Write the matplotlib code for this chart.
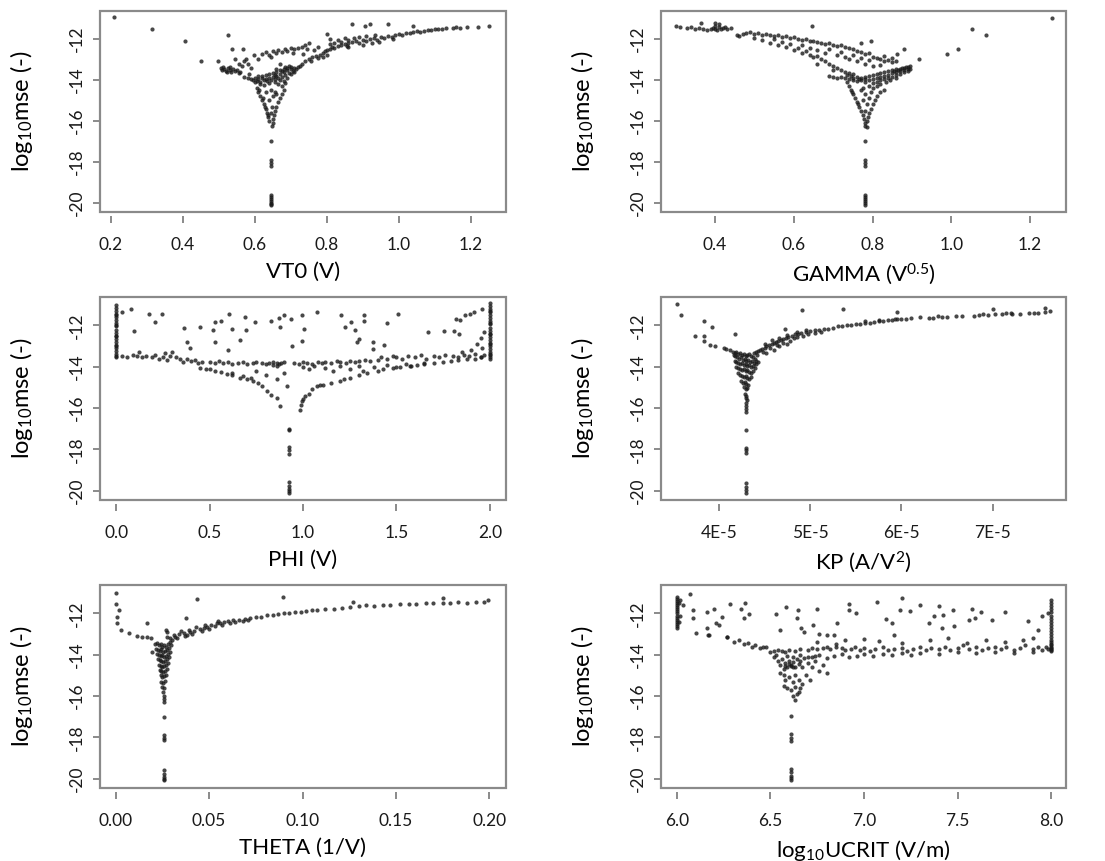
import numpy as np
import matplotlib
matplotlib.use('Agg')
import matplotlib.pyplot as plt
from matplotlib.patches import Rectangle

plt.rcParams['font.family'] = ['Lato', 'DejaVu Sans']
plt.rcParams['mathtext.fontset'] = 'custom'
plt.rcParams['mathtext.rm'] = 'Lato'
plt.rcParams['mathtext.it'] = 'Lato:italic'

# ---- data: (parameter value, log10 mse) ----
vt0_pts = [
    (0.21, -10.95), (0.315, -11.5), (0.405, -12.1), (0.452, -13.1), (0.525, -11.8), (0.537, -12.5),
    (0.566, -12.5), (0.497, -13.1),
    (0.505, -13.4), (0.51, -13.5), (0.515, -13.45), (0.52, -13.55), (0.525, -13.4), (0.53, -13.5),
    (0.535, -13.6), (0.54, -13.45), (0.545, -13.55), (0.55, -13.5), (0.555, -13.65), (0.512, -13.35),
    (0.522, -13.6), (0.532, -13.38), (0.56, -13.6), (0.565, -13.3), (0.57, -13.1), (0.575, -13.0),
    (0.58, -13.2), (0.555, -13.2), (0.545, -13.0), (0.59, -13.4), (0.585, -13.7),
    (0.597, -12.8), (0.61, -13.0), (0.62, -12.75), (0.63, -12.65), (0.64, -12.8), (0.65, -12.6),
    (0.66, -12.7), (0.665, -12.55), (0.675, -12.65), (0.685, -12.5), (0.69, -12.6), (0.70, -12.45),
    (0.71, -12.5), (0.72, -12.45), (0.73, -12.4), (0.74, -12.3), (0.745, -12.5), (0.75, -12.2),
    (0.645, -12.9), (0.67, -13.2), (0.705, -12.7), (0.735, -12.75),
    (0.57, -13.85), (0.58, -13.9), (0.59, -13.95), (0.60, -13.9), (0.61, -13.95), (0.62, -13.9),
    (0.63, -13.95), (0.64, -13.9), (0.65, -13.85), (0.66, -13.8), (0.67, -13.7), (0.68, -13.6),
    (0.69, -13.5), (0.70, -13.45), (0.71, -13.4), (0.72, -13.35),
    (0.595, -14.0), (0.605, -14.05), (0.615, -14.1), (0.625, -14.0), (0.635, -14.05), (0.645, -14.0),
    (0.655, -13.95), (0.665, -13.9), (0.675, -13.85), (0.685, -13.75), (0.695, -13.65), (0.705, -13.55),
    (0.715, -13.45), (0.64, -13.7), (0.65, -13.65), (0.66, -13.6), (0.67, -13.5), (0.68, -13.45),
    (0.69, -13.4), (0.70, -13.35), (0.66, -13.45), (0.675, -13.55), (0.685, -13.35), (0.695, -13.3),
    (0.655, -13.75), (0.67, -14.0), (0.68, -14.05), (0.69, -13.9), (0.70, -13.7), (0.71, -13.6),
    (0.62, -13.8), (0.63, -13.75), (0.61, -13.8), (0.60, -14.1), (0.615, -14.2), (0.625, -14.25),
    (0.64, -14.15), (0.655, -14.1), (0.665, -14.2), (0.675, -14.3), (0.685, -14.15),
    (0.605, -14.4), (0.61, -14.6), (0.615, -14.8), (0.62, -15.0), (0.625, -15.2), (0.63, -15.4),
    (0.633, -15.6), (0.636, -15.8), (0.64, -16.0), (0.612, -14.5), (0.622, -14.9), (0.628, -15.3),
    (0.638, -15.7), (0.68, -14.5), (0.675, -14.7), (0.67, -14.9), (0.665, -15.1), (0.66, -15.3),
    (0.657, -15.5), (0.654, -15.7), (0.652, -15.9), (0.65, -16.1), (0.648, -16.25),
    (0.645, -14.5), (0.65, -14.8), (0.655, -14.6), (0.64, -15.0), (0.648, -15.3), (0.63, -14.6),
    (0.66, -14.7), (0.645, -15.6),
    (0.645, -17.0), (0.645, -17.9), (0.645, -18.05), (0.645, -18.2), (0.645, -19.6), (0.645, -19.7),
    (0.645, -19.8), (0.645, -19.9), (0.645, -20.0), (0.645, -20.05), (0.645, -20.1),
    (0.725, -13.3), (0.73, -13.2), (0.74, -13.1), (0.75, -13.0), (0.755, -13.1), (0.76, -12.9),
    (0.77, -12.85), (0.775, -12.95), (0.78, -12.8), (0.79, -12.7), (0.795, -12.6), (0.80, -12.55),
    (0.81, -12.5), (0.815, -12.4), (0.82, -12.45), (0.83, -12.35), (0.84, -12.3), (0.85, -12.25),
    (0.855, -12.35), (0.86, -12.2), (0.87, -12.15), (0.88, -12.1), (0.89, -12.2), (0.90, -12.05),
    (0.91, -12.1), (0.92, -12.0), (0.93, -11.95), (0.94, -12.05), (0.95, -11.9), (0.96, -11.95),
    (0.97, -11.85), (0.98, -11.9), (0.99, -11.8), (1.00, -11.75), (1.01, -11.8), (1.02, -11.7),
    (1.03, -11.7), (1.04, -11.65), (1.05, -11.6), (1.06, -11.65), (1.07, -11.6), (1.08, -11.55),
    (1.09, -11.55), (1.10, -11.5), (1.11, -11.5), (1.12, -11.5), (1.13, -11.45), (1.15, -11.45),
    (1.16, -11.42), (1.17, -11.45), (1.19, -11.4), (1.22, -11.42), (1.25, -11.35),
    (0.80, -11.75), (0.81, -12.0), (0.82, -12.2), (0.83, -12.05), (0.84, -12.15), (0.85, -11.95),
    (0.86, -12.05), (0.87, -11.25), (0.875, -11.95), (0.89, -11.9), (0.905, -11.35), (0.91, -11.85),
    (0.92, -11.25), (0.935, -11.8), (0.97, -11.25), (1.04, -11.35), (0.79, -12.9), (0.765, -12.55),
    (0.775, -12.4), (0.80, -12.8), (0.81, -12.25), (0.86, -12.4), (0.90, -12.3), (0.925, -12.2),
    (0.945, -12.15), (0.985, -12.0),
]

gamma_pts = [
    (0.30, -11.35), (0.31, -11.4), (0.33, -11.45), (0.34, -11.4), (0.35, -11.5), (0.36, -11.45),
    (0.365, -11.2), (0.37, -11.5), (0.38, -11.55), (0.39, -11.5), (0.395, -11.45), (0.40, -11.5),
    (0.40, -11.35), (0.405, -11.55), (0.41, -11.4), (0.41, -11.25), (0.415, -11.5), (0.42, -11.45),
    (0.425, -11.4), (0.43, -11.5), (0.44, -11.45), (0.40, -11.2),
    (0.455, -11.8), (0.46, -11.85), (0.47, -11.75), (0.48, -11.7), (0.49, -11.65), (0.50, -11.75),
    (0.51, -11.7), (0.52, -11.8), (0.53, -11.75), (0.54, -11.8), (0.55, -11.85), (0.56, -11.8),
    (0.57, -11.9), (0.58, -11.85), (0.59, -11.95), (0.60, -11.9), (0.61, -12.0), (0.62, -12.05),
    (0.63, -12.0), (0.64, -12.1), (0.65, -12.1), (0.66, -12.15), (0.67, -12.2), (0.68, -12.25),
    (0.69, -12.2), (0.70, -12.3), (0.71, -12.35), (0.72, -12.3), (0.73, -12.4), (0.74, -12.45),
    (0.75, -12.5), (0.76, -12.6), (0.77, -12.65), (0.78, -12.75), (0.79, -12.7), (0.80, -12.9),
    (0.81, -12.95), (0.82, -13.0), (0.83, -13.1), (0.84, -13.05), (0.85, -13.15),
    (0.50, -11.95), (0.52, -12.05), (0.54, -12.2), (0.56, -12.3), (0.58, -12.4), (0.60, -12.55),
    (0.61, -12.45), (0.62, -12.7), (0.63, -12.6), (0.64, -12.8), (0.65, -12.9), (0.66, -12.85),
    (0.67, -13.0), (0.68, -13.1), (0.69, -13.2), (0.70, -13.3), (0.71, -13.4), (0.72, -13.5),
    (0.73, -13.6), (0.74, -13.65), (0.75, -13.7), (0.66, -13.2), (0.70, -13.5),
    (0.55, -12.0), (0.57, -12.15), (0.59, -12.25), (0.62, -12.3), (0.64, -12.45), (0.66, -12.55),
    (0.68, -12.7), (0.69, -12.5), (0.71, -12.8), (0.72, -12.65), (0.73, -12.9), (0.74, -13.0),
    (0.75, -12.8), (0.76, -13.1), (0.77, -12.95), (0.78, -13.2), (0.79, -13.05), (0.80, -13.3),
    (0.82, -13.25), (0.83, -12.85), (0.85, -12.95), (0.86, -13.1),
    (0.646, -11.35), (0.77, -12.2), (0.797, -12.1), (0.88, -12.5), (0.862, -12.75), (0.917, -12.97),
    (0.99, -12.76), (1.018, -12.5), (1.052, -11.5), (1.089, -11.8), (1.255, -11.0),
    (0.69, -13.8), (0.70, -13.85), (0.71, -13.9), (0.72, -13.85), (0.73, -13.9), (0.74, -13.95),
    (0.75, -13.9), (0.76, -13.85), (0.77, -13.9), (0.78, -13.85), (0.79, -13.8), (0.80, -13.75),
    (0.81, -13.7), (0.82, -13.65), (0.83, -13.6), (0.84, -13.55), (0.85, -13.5), (0.86, -13.45),
    (0.87, -13.45), (0.88, -13.4), (0.89, -13.35), (0.895, -13.3),
    (0.75, -14.0), (0.76, -14.05), (0.77, -14.0), (0.78, -14.1), (0.79, -14.0), (0.80, -13.95),
    (0.81, -13.9), (0.82, -13.85), (0.83, -13.8), (0.84, -13.75), (0.85, -13.65), (0.86, -13.6),
    (0.87, -13.55), (0.88, -13.5), (0.89, -13.45),
    (0.80, -14.15), (0.81, -14.1), (0.82, -14.0), (0.83, -13.95), (0.84, -13.9), (0.85, -13.85),
    (0.86, -13.75), (0.87, -13.7), (0.88, -13.6), (0.89, -13.55), (0.895, -13.45), (0.885, -13.35),
    (0.875, -13.4), (0.865, -13.5), (0.855, -13.55), (0.78, -13.95), (0.765, -13.95), (0.745, -13.8),
    (0.735, -13.75), (0.79, -14.3), (0.80, -14.4), (0.81, -14.3), (0.82, -14.2), (0.835, -14.1),
    (0.845, -14.0), (0.86, -13.9),
    (0.735, -14.1), (0.74, -14.3), (0.745, -14.5), (0.75, -14.7), (0.755, -14.9), (0.76, -15.1),
    (0.765, -15.3), (0.77, -15.5), (0.775, -15.7), (0.778, -15.9), (0.78, -16.1), (0.782, -16.25),
    (0.748, -14.6), (0.762, -15.2),
    (0.83, -14.5), (0.82, -14.6), (0.81, -14.8), (0.805, -15.0), (0.80, -15.2), (0.795, -15.4),
    (0.79, -15.6), (0.788, -15.8), (0.786, -16.0), (0.785, -16.3),
    (0.775, -14.4), (0.78, -14.7), (0.79, -14.9), (0.785, -15.2), (0.775, -15.0), (0.795, -14.6),
    (0.77, -14.5), (0.78, -15.5),
    (0.782, -17.0), (0.782, -17.9), (0.782, -18.05), (0.782, -18.2), (0.782, -19.6), (0.782, -19.7),
    (0.782, -19.8), (0.782, -19.9), (0.782, -20.0), (0.782, -20.1),
]

phi_pts = [
    (0.0, -11.0), (0.0, -11.15), (0.0, -11.3), (0.0, -11.45), (0.0, -11.6), (0.0, -11.75),
    (0.0, -11.9), (0.0, -12.05), (0.0, -12.2), (0.0, -12.35), (0.0, -12.5), (0.0, -12.65),
    (0.0, -12.8), (0.0, -12.95), (0.0, -13.1), (0.0, -13.25), (0.0, -13.4), (0.0, -13.55),
    (0.0, -11.5), (0.0, -12.0), (0.0, -12.5), (0.0, -13.0), (0.0, -13.5), (0.03, -11.35), (0.03, -13.5),
    (2.0, -10.9), (2.0, -11.05), (2.0, -11.2), (2.0, -11.35), (2.0, -11.5), (2.0, -11.65),
    (2.0, -11.8), (2.0, -11.95), (2.0, -12.1), (2.0, -12.25), (2.0, -12.4), (2.0, -12.55),
    (2.0, -12.7), (2.0, -12.85), (2.0, -13.0), (2.0, -13.15), (2.0, -13.3), (2.0, -13.45),
    (2.0, -13.6), (2.0, -11.3), (2.0, -11.9), (2.0, -12.4), (2.0, -12.9), (2.0, -13.4), (2.0, -13.55),
    (0.078, -11.19), (0.178, -11.43), (0.248, -11.43), (0.208, -11.83), (0.098, -12.29), (0.361, -12.13),
    (0.448, -12.08), (0.378, -12.78), (0.398, -13.08), (0.531, -11.83), (0.561, -11.76), (0.603, -11.43),
    (0.519, -12.2), (0.619, -12.16), (0.694, -12.24), (0.691, -11.59), (0.744, -11.83), (0.664, -12.69),
    (0.531, -12.81), (0.597, -13.19), (0.830, -11.76), (0.872, -11.64), (0.897, -11.51), (0.936, -11.67),
    (0.877, -12.08), (0.997, -11.51), (1.007, -12.16), (0.993, -12.73), (0.943, -13.0), (1.076, -11.34),
    (1.206, -11.48), (1.256, -11.83), (1.223, -12.08), (1.276, -12.24), (1.326, -11.51), (1.329, -11.8),
    (1.289, -12.81), (1.301, -12.65), (1.376, -12.81), (1.376, -13.14), (1.434, -12.95), (1.451, -11.88),
    (1.506, -11.43), (1.667, -12.33), (1.755, -12.29), (1.808, -12.29), (1.833, -12.41), (1.816, -11.67),
    (1.841, -11.72), (1.866, -11.51), (1.891, -11.43), (1.916, -11.34), (1.96, -11.2),
    (1.93, -12.9), (1.95, -12.6), (1.97, -12.3), (1.96, -13.1), (1.9, -13.2), (1.85, -13.3),
    (0.06, -13.55), (0.09, -13.45), (0.11, -13.5), (0.14, -13.55), (0.16, -13.5), (0.19, -13.55),
    (0.21, -13.45), (0.23, -13.6), (0.25, -13.55), (0.27, -13.65), (0.29, -13.5), (0.32, -13.55),
    (0.34, -13.6), (0.36, -13.75), (0.38, -13.6), (0.40, -13.7), (0.42, -13.65), (0.44, -13.8),
    (0.46, -13.75), (0.12, -13.3), (0.26, -13.35), (0.30, -13.3),
    (0.50, -13.75), (0.53, -13.8), (0.55, -13.7), (0.57, -13.8), (0.60, -13.75), (0.62, -13.85),
    (0.65, -13.8), (0.68, -13.75), (0.70, -13.85), (0.73, -13.8), (0.75, -13.75), (0.78, -13.8),
    (0.80, -13.85), (0.82, -13.8), (0.84, -13.75), (0.86, -13.8), (0.88, -13.8), (0.90, -13.75),
    (0.95, -13.8), (0.98, -13.85), (1.00, -13.75), (1.02, -13.8), (1.05, -13.85), (1.08, -13.75),
    (1.10, -13.8), (1.12, -13.75), (1.15, -13.8), (1.18, -13.7), (1.20, -13.75), (1.23, -13.8),
    (1.25, -13.7), (1.28, -13.75), (1.30, -13.7), (1.33, -13.65), (1.36, -13.7), (1.40, -13.65),
    (0.84, -13.9), (0.86, -13.95), (0.87, -13.85),
    (1.42, -13.55), (1.45, -13.6), (1.48, -13.5), (1.50, -13.55), (1.53, -13.6), (1.56, -13.5),
    (1.60, -13.55), (1.63, -13.45), (1.66, -13.6), (1.70, -13.5), (1.73, -13.55), (1.76, -13.45),
    (1.80, -13.5), (1.83, -13.55), (1.86, -13.45), (1.89, -13.5), (1.92, -13.4), (1.95, -13.55),
    (1.97, -13.45),
    (1.0, -14.0), (1.03, -14.1), (1.06, -13.95), (1.12, -14.05), (1.16, -14.2), (1.20, -13.95),
    (1.25, -14.1), (1.3, -13.95), (1.32, -14.2), (1.38, -14.0), (1.45, -13.9), (1.5, -14.0),
    (1.55, -13.85), (1.58, -13.95), (1.65, -13.8),
    (0.984, -16.08), (0.99, -15.85), (0.993, -15.67), (1.00, -15.55), (1.01, -15.43), (1.03, -15.3),
    (1.05, -15.1), (1.073, -14.94), (1.09, -14.9), (1.109, -14.86), (1.15, -14.78), (1.198, -14.69),
    (1.22, -14.6), (1.25, -14.53), (1.30, -14.4), (1.34, -14.29), (1.40, -14.2), (1.43, -14.12),
    (1.48, -14.05), (1.52, -13.99), (1.57, -13.95), (1.61, -13.93), (1.65, -13.85), (1.70, -13.8),
    (1.75, -13.75), (1.79, -13.71), (1.83, -13.68), (1.875, -13.63), (1.92, -13.6), (1.95, -13.55),
    (0.449, -14.04), (0.48, -14.1), (0.503, -14.12), (0.53, -14.2), (0.56, -14.25), (0.592, -14.37),
    (0.62, -14.4), (0.663, -14.53), (0.70, -14.6), (0.734, -14.69), (0.76, -14.8), (0.78, -14.95),
    (0.806, -15.18), (0.83, -15.35), (0.859, -15.51), (0.877, -15.89), (0.913, -14.94), (0.62, -14.3),
    (0.68, -14.45), (0.72, -14.55), (0.75, -14.2), (0.80, -14.4), (0.86, -14.6), (0.90, -14.3),
    (0.927, -17.0), (0.927, -17.05), (0.927, -17.9), (0.927, -18.05), (0.927, -18.2), (0.927, -19.6),
    (0.927, -19.75), (0.927, -19.9), (0.927, -20.0), (0.927, -20.1),
]

# KP in units of 1E-5 A/V^2
kp_pts = [
    (3.535, -10.94), (3.583, -11.48), (3.83, -11.76), (3.92, -12.08), (3.74, -12.49), (3.84, -12.49),
    (3.84, -12.73), (4.176, -12.41), (4.72, -12.16), (4.91, -11.27), (5.36, -11.19), (5.95, -11.35),
    (7.0, -11.19), (7.57, -11.15),
    (3.90, -12.95), (3.96, -13.0), (4.05, -13.1), (4.08, -13.14), (4.12, -13.2),
    (4.15, -13.3), (4.17, -13.35), (4.19, -13.3), (4.21, -13.4), (4.23, -13.35), (4.25, -13.45),
    (4.27, -13.4), (4.29, -13.5), (4.31, -13.45), (4.33, -13.4), (4.35, -13.5), (4.37, -13.55),
    (4.39, -13.6), (4.41, -13.7), (4.43, -13.75),
    (4.16, -13.45), (4.18, -13.5), (4.20, -13.55), (4.22, -13.6), (4.24, -13.55), (4.26, -13.65),
    (4.28, -13.6), (4.30, -13.7), (4.32, -13.65), (4.34, -13.75), (4.36, -13.7), (4.38, -13.8),
    (4.40, -13.85),
    (4.17, -13.7), (4.19, -13.75), (4.21, -13.8), (4.23, -13.85), (4.25, -13.8), (4.27, -13.9),
    (4.29, -13.85), (4.31, -13.95), (4.33, -13.9), (4.35, -14.0), (4.37, -13.95), (4.39, -14.05),
    (4.19, -14.0), (4.21, -14.05), (4.23, -14.1), (4.25, -14.15), (4.27, -14.1), (4.29, -14.2),
    (4.31, -14.15), (4.33, -14.25), (4.35, -14.3), (4.37, -14.2),
    (4.21, -14.3), (4.23, -14.4), (4.25, -14.45), (4.27, -14.5), (4.29, -14.45), (4.31, -14.55),
    (4.33, -14.6), (4.35, -14.5),
    (4.24, -14.7), (4.26, -14.8), (4.28, -14.75), (4.30, -14.85), (4.32, -14.9), (4.27, -15.0),
    (4.29, -15.1), (4.31, -15.05), (4.28, -15.3), (4.30, -15.4), (4.29, -15.5), (4.31, -15.6),
    (4.30, -15.75), (4.29, -15.9), (4.30, -16.05), (4.30, -16.2),
    (4.30, -17.04), (4.30, -17.93), (4.30, -18.05), (4.30, -18.18), (4.30, -19.64), (4.30, -19.8),
    (4.30, -19.97), (4.30, -20.13),
    (4.38, -13.35), (4.40, -13.3), (4.43, -13.25), (4.45, -13.2), (4.47, -13.14), (4.50, -13.1),
    (4.52, -13.0), (4.55, -12.95), (4.58, -12.9), (4.60, -12.85), (4.62, -12.8), (4.65, -12.73),
    (4.68, -12.7), (4.70, -12.65), (4.73, -12.6), (4.76, -12.55), (4.80, -12.5), (4.83, -12.41),
    (4.87, -12.4), (4.90, -12.35), (4.95, -12.3), (5.00, -12.25), (5.05, -12.24), (5.10, -12.2),
    (5.15, -12.18), (5.20, -12.16), (5.25, -12.1), (5.30, -12.05), (5.35, -12.02), (5.40, -12.0),
    (5.45, -11.97), (5.50, -11.95), (5.55, -11.92), (5.60, -11.9), (5.65, -11.87), (5.70, -11.83),
    (5.75, -11.8), (5.80, -11.8), (5.85, -11.75), (5.90, -11.73), (5.93, -11.71), (6.00, -11.7),
    (6.05, -11.68), (6.11, -11.64), (6.30, -11.64), (6.35, -11.62), (6.45, -11.6), (6.50, -11.58),
    (6.60, -11.55), (6.66, -11.54), (6.80, -11.52), (6.85, -11.51), (6.95, -11.48), (7.03, -11.43),
    (7.10, -11.45), (7.15, -11.42), (7.21, -11.43), (7.30, -11.45), (7.40, -11.4), (7.50, -11.38),
    (7.58, -11.35), (7.63, -11.32),
    (4.42, -13.45), (4.48, -13.3), (4.52, -13.35), (4.56, -13.1), (4.60, -13.2), (4.63, -12.95),
    (4.66, -13.0), (4.70, -12.85), (4.74, -12.9), (4.78, -12.75), (4.82, -12.6), (4.86, -12.55),
    (4.92, -12.5), (4.98, -12.4), (5.05, -12.35), (5.12, -12.3), (4.50, -12.9), (4.58, -12.7),
    (4.66, -12.6), (4.75, -12.45), (4.85, -12.3), (4.95, -12.2), (5.6, -11.8), (5.75, -11.75),
    (5.95, -11.68), (6.2, -11.6), (6.4, -11.55), (6.9, -11.45), (7.2, -11.38), (7.45, -11.4),
]

theta_pts = [
    (0.0, -11.03), (0.0, -11.52), (0.0018, -11.84), (0.0005, -12.16), (0.0005, -12.48), (0.0027, -12.81),
    (0.0071, -12.97), (0.0116, -13.1), (0.0166, -12.45), (0.017, -13.13), (0.0196, -13.86),
    (0.014, -13.15), (0.019, -13.2),
    (0.021, -13.5), (0.022, -13.45), (0.023, -13.55), (0.024, -13.5), (0.025, -13.6), (0.026, -13.55),
    (0.027, -13.6), (0.028, -13.5), (0.029, -13.4), (0.030, -13.3),
    (0.0215, -13.7), (0.0225, -13.75), (0.0235, -13.8), (0.0245, -13.7), (0.0255, -13.85),
    (0.0265, -13.8), (0.0275, -13.75), (0.0285, -13.65), (0.0295, -13.55),
    (0.022, -13.95), (0.023, -14.0), (0.024, -14.05), (0.025, -14.0), (0.026, -14.1), (0.027, -14.05),
    (0.028, -13.95), (0.029, -13.85),
    (0.0225, -14.2), (0.0235, -14.25), (0.0245, -14.3), (0.0255, -14.35), (0.0265, -14.3),
    (0.0275, -14.2), (0.0285, -14.1),
    (0.023, -14.5), (0.024, -14.55), (0.025, -14.6), (0.026, -14.55), (0.027, -14.5), (0.028, -14.4),
    (0.0235, -14.75), (0.0245, -14.8), (0.0255, -14.85), (0.0265, -14.8), (0.0275, -14.7),
    (0.024, -15.0), (0.025, -15.1), (0.026, -15.05), (0.027, -15.0), (0.0245, -15.3), (0.0255, -15.35),
    (0.0265, -15.25), (0.025, -15.55), (0.026, -15.6), (0.0255, -15.8), (0.0258, -16.0),
    (0.0258, -16.15), (0.0258, -16.28),
    (0.0258, -17.01), (0.0258, -17.9), (0.0258, -18.05), (0.0258, -18.14), (0.0258, -19.6),
    (0.0258, -19.76), (0.0258, -19.92), (0.0258, -20.0), (0.0258, -20.08),
    (0.0276, -13.13), (0.029, -13.2), (0.031, -13.05), (0.032, -13.15), (0.034, -13.0), (0.0365, -12.97),
    (0.038, -13.05), (0.040, -12.9), (0.042, -12.85), (0.045, -12.73), (0.047, -12.7), (0.049, -12.65),
    (0.051, -12.55), (0.054, -12.48), (0.056, -12.45), (0.058, -12.4), (0.060, -12.38), (0.063, -12.32),
    (0.066, -12.3), (0.069, -12.28), (0.072, -12.24), (0.075, -12.18), (0.078, -12.15), (0.081, -12.08),
    (0.084, -12.06), (0.087, -12.02), (0.090, -12.0), (0.093, -11.98), (0.096, -11.95), (0.099, -11.92),
    (0.102, -11.88), (0.105, -11.85), (0.108, -11.81), (0.112, -11.8), (0.117, -11.76), (0.121, -11.72),
    (0.1255, -11.68), (0.130, -11.66), (0.134, -11.6), (0.138, -11.62), (0.143, -11.6), (0.147, -11.58),
    (0.152, -11.52), (0.157, -11.55), (0.161, -11.52), (0.166, -11.5), (0.170, -11.48), (0.175, -11.5),
    (0.179, -11.48), (0.183, -11.46), (0.188, -11.48), (0.193, -11.45), (0.197, -11.43), (0.1995, -11.35),
    (0.033, -13.2), (0.035, -12.85), (0.037, -13.1), (0.039, -12.8), (0.041, -13.0), (0.043, -12.65),
    (0.046, -12.85), (0.048, -12.55), (0.050, -12.75), (0.053, -12.6), (0.055, -12.35), (0.057, -12.55),
    (0.061, -12.45), (0.064, -12.4), (0.068, -12.35), (0.071, -12.3),
    (0.0436, -11.32), (0.0374, -12.24), (0.0267, -12.81), (0.0275, -12.9), (0.0896, -11.22),
    (0.127, -11.43), (0.175, -11.27),
]

ucrit_pts = [
    (6.0, -11.2), (6.0, -11.3), (6.0, -11.4), (6.0, -11.5), (6.0, -11.6), (6.0, -11.7), (6.0, -11.8),
    (6.0, -11.9), (6.0, -12.0), (6.0, -12.1), (6.0, -12.2), (6.0, -12.3), (6.0, -12.4), (6.0, -12.5),
    (6.0, -12.6), (6.0, -12.7), (6.01, -11.5), (6.01, -12.4), (6.02, -11.35), (6.02, -12.1),
    (8.0, -11.35), (8.0, -11.5), (8.0, -11.65), (8.0, -11.8), (8.0, -11.95), (8.0, -12.1), (8.0, -12.25),
    (8.0, -12.4), (8.0, -12.55), (8.0, -12.7), (8.0, -12.85), (8.0, -13.0), (8.0, -13.15), (8.0, -13.3),
    (8.0, -13.4), (8.0, -13.5), (8.0, -13.55), (8.0, -13.6), (8.0, -13.65), (8.0, -13.7), (8.0, -13.75),
    (8.0, -13.8), (7.98, -13.7), (7.97, -13.6), (7.98, -12.0),
    (6.073, -11.04), (6.036, -11.6), (6.086, -11.84), (6.086, -12.24), (6.103, -12.96), (6.161, -11.92),
    (6.161, -12.72), (6.169, -13.05), (6.2, -11.76), (6.21, -12.48), (6.227, -12.56), (6.244, -12.16),
    (6.285, -11.52), (6.344, -11.76), (6.365, -11.47), (6.36, -12.24), (6.385, -12.05), (6.269, -13.13),
    (6.532, -12.05), (6.552, -12.8), (6.582, -11.68), (6.64, -12.24), (6.648, -11.84), (6.664, -12.72),
    (6.681, -12.88), (6.726, -12.56), (6.751, -11.76), (6.759, -13.01), (6.801, -13.05), (6.842, -13.05),
    (6.854, -12.48), (6.92, -11.52), (6.92, -11.84), (6.958, -12.0), (7.067, -11.44), (7.117, -12.29),
    (7.147, -12.48), (7.158, -13.05), (7.191, -11.84), (7.2, -11.25), (7.246, -11.9), (7.296, -11.57),
    (7.346, -12.48), (7.374, -12.11), (7.399, -11.63), (7.424, -12.08), (7.416, -12.72), (7.474, -11.84),
    (7.479, -12.6), (7.574, -11.76), (7.558, -12.32), (7.591, -12.24), (7.624, -11.95), (7.683, -12.32),
    (7.75, -11.95), (7.874, -12.37), (7.93, -12.8), (7.95, -12.1),
    (6.17, -13.05), (6.27, -13.13), (6.305, -13.37), (6.33, -13.3), (6.36, -13.5), (6.38, -13.45),
    (6.402, -13.61), (6.42, -13.55), (6.444, -13.69), (6.46, -13.6), (6.477, -13.61), (6.50, -13.85),
    (6.52, -13.8), (6.54, -13.75), (6.56, -13.8), (6.58, -13.85), (6.60, -13.75), (6.63, -13.8),
    (6.66, -13.7), (6.70, -13.75), (6.72, -13.65), (6.75, -13.7), (6.78, -13.65), (6.80, -13.6),
    (6.82, -13.7), (6.85, -13.6), (6.88, -13.65), (6.90, -13.75), (6.93, -13.7), (6.95, -13.6),
    (6.98, -13.75), (7.00, -13.65), (7.03, -13.8), (7.06, -13.7), (7.10, -13.6), (7.13, -13.75),
    (7.16, -13.7), (7.20, -13.65), (7.23, -13.8), (7.26, -13.7), (7.30, -13.6), (7.33, -13.75),
    (7.36, -13.65), (7.40, -13.7), (7.43, -13.6), (7.46, -13.75), (7.50, -13.65), (7.53, -13.55),
    (7.56, -13.7), (7.60, -13.6), (7.63, -13.75), (7.66, -13.65), (7.70, -13.6), (7.73, -13.7),
    (7.76, -13.6), (7.80, -13.75), (7.83, -13.65), (7.86, -13.55), (7.90, -13.7), (7.93, -13.6),
    (7.95, -13.75),
    (6.72, -14.1), (6.76, -14.0), (6.80, -14.15), (6.84, -14.05), (6.88, -13.95), (6.92, -14.1),
    (6.96, -14.05), (7.00, -13.95), (7.05, -14.05), (7.10, -13.95), (7.15, -14.0), (7.20, -13.9),
    (7.25, -14.0), (7.30, -13.9), (7.40, -13.95), (7.50, -13.85), (7.60, -13.9), (7.70, -13.85),
    (7.80, -13.9), (7.90, -13.85),
    (6.75, -13.4), (6.9, -13.3), (7.08, -13.35), (7.2, -13.45), (7.35, -13.3), (7.55, -13.45),
    (7.65, -13.3), (7.75, -13.4), (7.85, -13.3), (7.9, -13.2), (7.45, -13.2), (7.0, -13.25), (6.85, -13.5),
    (6.52, -14.1), (6.54, -14.3), (6.55, -14.5), (6.56, -14.2), (6.57, -14.7), (6.58, -14.4),
    (6.59, -14.6), (6.60, -14.3), (6.61, -14.5), (6.62, -14.35), (6.63, -14.6), (6.64, -14.2),
    (6.65, -14.45), (6.66, -14.3), (6.67, -14.6), (6.68, -14.15), (6.70, -14.4), (6.72, -14.6),
    (6.74, -14.3), (6.76, -14.8), (6.78, -14.5), (6.80, -14.9),
    (6.55, -14.9), (6.57, -15.0), (6.58, -15.2), (6.60, -15.1), (6.62, -15.3), (6.63, -15.0),
    (6.65, -15.2), (6.67, -15.4), (6.69, -15.0), (6.71, -15.2),
    (6.57, -15.5), (6.59, -15.6), (6.61, -15.7), (6.63, -15.55), (6.65, -15.8), (6.66, -15.6),
    (6.62, -16.0), (6.63, -16.2), (6.64, -15.9),
    (6.53, -14.0), (6.59, -14.05), (6.62, -14.1), (6.66, -14.0), (6.70, -14.1), (6.74, -14.05),
    (6.60, -14.45), (6.61, -14.55), (6.62, -14.6), (6.58, -14.55),
    (6.61, -16.98), (6.61, -17.86), (6.61, -18.05), (6.61, -18.18), (6.61, -19.55), (6.61, -19.7),
    (6.61, -19.85), (6.61, -19.95), (6.61, -20.06),
]

yticks = [-20, -18, -16, -14, -12]
ylabel = 'log$_{\\mathrm{10}}$mse (-)'

L, R = 0.0905, 0.5982
W_L, W_R = 0.3674, 0.3665
panels = [
    # points, x scale, xlim, xticks, xticklabels, xlabel, axes rect
    (vt0_pts, 1.0, (0.170, 1.298), [0.2, 0.4, 0.6, 0.8, 1.0, 1.2],
     ['0.2', '0.4', '0.6', '0.8', '1.0', '1.2'], 'VT0 (V)', [L, 0.7538, W_L, 0.2338]),
    (gamma_pts, 1.0, (0.263, 1.291), [0.4, 0.6, 0.8, 1.0, 1.2],
     ['0.4', '0.6', '0.8', '1.0', '1.2'], 'GAMMA (V$^{\\mathrm{0.5}}$)', [R, 0.7538, W_R, 0.2338]),
    (phi_pts, 1.0, (-0.086, 2.086), [0.0, 0.5, 1.0, 1.5, 2.0],
     ['0.0', '0.5', '1.0', '1.5', '2.0'], 'PHI (V)', [L, 0.4193, W_L, 0.2358]),
    (kp_pts, 1e-5, (3.363e-5, 7.805e-5), [4e-5, 5e-5, 6e-5, 7e-5],
     ['4E-5', '5E-5', '6E-5', '7E-5'], 'KP (A/V$^{\\mathrm{2}}$)', [R, 0.4193, W_R, 0.2358]),
    (theta_pts, 1.0, (-0.0084, 0.2089), [0.0, 0.05, 0.10, 0.15, 0.20],
     ['0.00', '0.05', '0.10', '0.15', '0.20'], 'THETA (1/V)', [L, 0.0848, W_L, 0.2358]),
    (ucrit_pts, 1.0, (5.916, 8.078), [6.0, 6.5, 7.0, 7.5, 8.0],
     ['6.0', '6.5', '7.0', '7.5', '8.0'], 'log$_{\\mathrm{10}}$UCRIT (V/m)', [R, 0.0848, W_R, 0.2358]),
]

fig = plt.figure(figsize=(11.05, 8.61), dpi=100)

for pts, scale, xlim, xt, xtl, xlab, rect in panels:
    ax = fig.add_axes(rect)
    x = np.array([p[0] for p in pts]) * scale
    y = np.array([p[1] for p in pts])
    ax.scatter(x, y, s=9, color='#1a1a1a', alpha=0.8, linewidths=0)
    ax.set_xlim(xlim)
    ax.set_ylim(-20.45, -10.62)
    ax.set_xticks(xt)
    ax.set_xticklabels(xtl)
    ax.set_yticks(yticks)
    ax.set_yticklabels([str(v) for v in yticks])
    for s in ax.spines.values():
        s.set_visible(False)
    ax.spines['bottom'].set_position(('outward', 3))
    ax.add_patch(Rectangle((0, 0), 1, 1, transform=ax.transAxes, fill=False,
                           edgecolor='#8a8a8a', lw=1.6, clip_on=False, zorder=5))
    ax.tick_params(axis='both', colors='#8a8a8a', labelcolor='#1a1a1a', length=5, width=1.4,
                   labelsize=12.5)
    ax.tick_params(axis='x', pad=10)
    ax.tick_params(axis='y', pad=6)
    for lab in ax.get_yticklabels():
        lab.set_rotation(90)
        lab.set_va('center')
    h_px = rect[3] * 861
    w_px = rect[2] * 1105
    ax.set_xlabel(xlab, fontsize=16)
    ax.xaxis.set_label_coords(0.5, -50 / h_px)
    ax.set_ylabel(ylabel, fontsize=17)
    ax.yaxis.set_label_coords(-65 / w_px, 0.5)

fig.savefig('out.png', dpi=100)
